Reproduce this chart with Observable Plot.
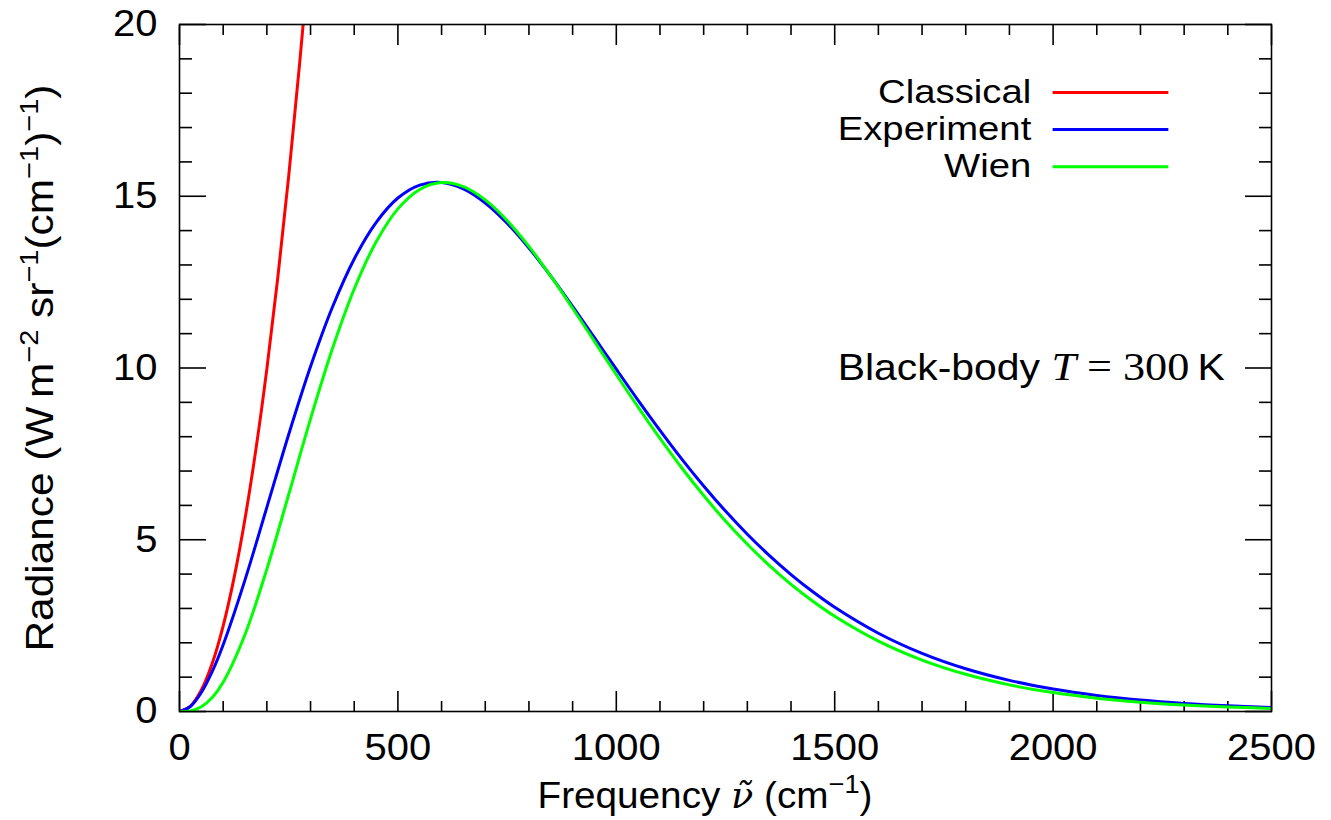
<!DOCTYPE html>
<html><head><meta charset="utf-8">
<script src="https://cdn.jsdelivr.net/npm/d3@7"></script>
<script src="https://cdn.jsdelivr.net/npm/@observablehq/plot@0.6"></script>
<style>
body{margin:0;background:#fff}
#chart svg{font-family:"Liberation Sans",Arial,sans-serif;background:#fff}
</style>
</head><body><div id="chart"></div>
<script>
// ---- data ----
const freqs = [0,25,50,75,100,150,200,250,300,350,400,450,500,550,600,650,700,750,800,850,900,950,1000,1050,1100,1150,1200,1250,1300,1350,1400,1450,1500,1600,1700,1800,1900,2000,2100,2200,2300,2400,2500];
const experiment = [0,0.147,0.552,1.166,1.944,3.833,5.944,8.065,10.041,11.767,13.175,14.235,14.949,15.326,15.403,15.215,14.805,14.217,13.494,12.675,11.795,10.883,9.965,9.060,8.185,7.349,6.565,5.834,5.160,4.545,3.987,3.484,3.034,2.279,1.692,1.243,0.905,0.653,0.468,0.333,0.236,0.166,0.116];
const wien = [0,0.019,0.136,0.406,0.851,2.241,4.145,6.318,8.519,10.559,12.300,13.667,14.632,15.197,15.398,15.279,14.893,14.295,13.539,12.673,11.740,10.775,9.808,8.860,7.950,7.089,6.286,5.544,4.868,4.254,3.702,3.210,2.773,2.050,1.498,1.083,0.776,0.551,0.388,0.272,0.189,0.131,0.090];
const classicalFreqs = [0,25,50,75,100,125,150,175,200,225,250,275,300];
const classical = [0,0.156,0.624,1.403,2.494,3.897,5.612,7.638,9.976,12.626,15.588,18.861,22.446];

const seriesNames = ["Classical","Experiment","Wien"];
const seriesColors = ["#ff0000","#0000ff","#00ff00"];
const xMajorTicks = [0,500,1000,1500,2000,2500];
const yMajorTicks = [0,5,10,15,20];
const xMinorTicks = [100,200,300,400,600,700,800,900,1100,1200,1300,1400,1600,1700,1800,1900,2100,2200,2300,2400];
const yMinorTicks = [1,2,3,4,6,7,8,9,11,12,13,14,16,17,18,19];
const annotation = "Black-body T = 300 K";

// ---- layout ----
const legendY = [18.02, 16.94, 15.86];
const legendX1 = 2000, legendX2 = 2265, legendTextX = 1950;
const annX = 2393, annY = 10;
const FS = 37;

// ---- build table ----
const rows = [];
classicalFreqs.forEach((v,i)=>rows.push({series:"Classical", v, r:classical[i]}));
freqs.forEach((v,i)=>rows.push({series:"Experiment", v, r:experiment[i]}));
freqs.forEach((v,i)=>rows.push({series:"Wien", v, r:wien[i]}));

const axisStroke = {strokeWidth:1.6, label:null, fill:"none"};

const chart = Plot.plot({
  width: 1331, height: 820,
  marginLeft: 179, marginRight: 60, marginTop: 24, marginBottom: 109,
  style: {fontFamily: '"Liberation Sans",Arial,sans-serif', fontSize: FS + "px", color: "#000"},
  x: {domain: [0, 2500]},
  y: {domain: [0, 20]},
  color: {domain: seriesNames, range: seriesColors},
  marks: [
    // tick marks (inward)
    Plot.axisX(xMajorTicks, {anchor:"bottom", tickSize:-20, ...axisStroke}),
    Plot.axisX(xMinorTicks, {anchor:"bottom", tickSize:-10, ...axisStroke}),
    Plot.axisX(xMajorTicks, {anchor:"top", tickSize:-20, ...axisStroke}),
    Plot.axisX(xMinorTicks, {anchor:"top", tickSize:-10, ...axisStroke}),
    Plot.axisY(yMajorTicks, {anchor:"left", tickSize:-27, ...axisStroke}),
    Plot.axisY(yMinorTicks, {anchor:"left", tickSize:-13, ...axisStroke}),
    Plot.axisY(yMajorTicks, {anchor:"right", tickSize:-27, ...axisStroke}),
    Plot.axisY(yMinorTicks, {anchor:"right", tickSize:-13, ...axisStroke}),
    // tick labels
    Plot.axisX(xMajorTicks, {anchor:"bottom", tickSize:0, tickPadding:22, fontSize:FS, label:null, tickFormat:d=>String(d)}),
    Plot.axisY(yMajorTicks, {anchor:"left", tickSize:0, tickPadding:22, fontSize:FS, label:null, tickFormat:d=>String(d)}),
    // curves
    Plot.line(rows, {x:"v", y:"r", z:"series", stroke:"series", strokeWidth:3, curve:"catmull-rom", clip:true}),
    // legend
    Plot.ruleY(seriesNames, {y:(d,i)=>legendY[i], x1:legendX1, x2:legendX2, stroke:d=>d, strokeWidth:3}),
    Plot.text(seriesNames, {x:legendTextX, y:(d,i)=>legendY[i], text:d=>d, textAnchor:"end", fontSize:33, fill:"#000"}),
    // annotation
    Plot.text([annotation], {x:annX, y:annY, text:d=>d, textAnchor:"end", fontSize:FS, fill:"#000"}),
    Plot.frame({stroke:"#000", strokeWidth:1.6})
  ]
});
document.getElementById("chart").appendChild(chart);

const svg = d3.select(chart);
const serif = '"Liberation Serif","DejaVu Serif",serif';
const mathSerif = '"DejaVu Serif","Liberation Serif",serif';
const stretch = (node, factor) => {
  const len = node.getComputedTextLength();
  node.setAttribute("textLength", (len * factor).toFixed(1));
  node.setAttribute("lengthAdjust", "spacingAndGlyphs");
};

// tick labels a little wider, as in the reference
svg.selectAll('g[aria-label="x-axis tick label"] text, g[aria-label="y-axis tick label"] text').each(function(){ stretch(this, 1.08); });

// legend labels
svg.selectAll("text").filter(function(){return seriesNames.includes(this.textContent);}).each(function(){ stretch(this, 1.16); });

// annotation with math typography
svg.selectAll("text").filter(function(){return this.textContent === annotation;}).each(function(){
  const t = d3.select(this);
  t.text(null);
  t.append("tspan").text("Black-body ");
  t.append("tspan").attr("font-family", serif).attr("font-style","italic").attr("font-size", FS+3).text("T");
  t.append("tspan").attr("font-family", serif).attr("font-size", FS+3).text(" = 300");
  t.append("tspan").text("\u2009K");
  stretch(this, 387 / this.getComputedTextLength());
});

// y axis title
const sup = (sel, s) => sel.append("tspan").attr("baseline-shift","super").attr("font-size", 26).text(s);
const yt = svg.append("text")
  .attr("transform", "translate(53,368) rotate(-90)")
  .attr("text-anchor", "middle")
  .attr("font-size", FS + 1).attr("fill", "#000");
yt.append("tspan").text("Radiance (W\u2009m");
sup(yt, "\u22122");
yt.append("tspan").text(" sr");
sup(yt, "\u22121");
yt.append("tspan").text("(cm");
sup(yt, "\u22121");
yt.append("tspan").text(")");
sup(yt, "\u22121");
yt.append("tspan").text(")");
stretch(yt.node(), 567 / yt.node().getComputedTextLength());

// x axis title
const xt = svg.append("text")
  .attr("x", 705).attr("y", 808)
  .attr("text-anchor", "middle")
  .attr("font-size", FS).attr("fill", "#000");
xt.append("tspan").text("Frequency ");
xt.append("tspan").attr("font-family", mathSerif).attr("font-style","italic").attr("font-size", FS - 2).text("\u03BD\u0303");
xt.append("tspan").text(" (cm");
sup(xt, "\u22121");
xt.append("tspan").text(")");
stretch(xt.node(), 335 / xt.node().getComputedTextLength());
</script>
</body></html>
